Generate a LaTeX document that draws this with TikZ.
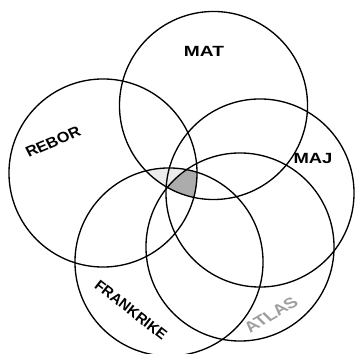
\documentclass[tikz,border=0pt]{standalone}
\usepackage{fontspec}
\setsansfont{Liberation Sans}
\usetikzlibrary{positioning}

\tikzset{
  venn/.style={draw, circle, line width=0.95pt, minimum size=4.7cm, inner sep=0pt},
  setlabel/.style={font=\sffamily\bfseries\fontsize{10.5}{12}\selectfont, inner sep=1pt}
}

\begin{document}
\begin{tikzpicture}[x=0.025cm,y=-0.025cm]
    \useasboundingbox (0,0) rectangle (356,354);

    % Centres of the five sets
    \coordinate (c-mat) at (213.5,105.5);
    \coordinate (c-rebor) at (103,173);
    \coordinate (c-maj) at (260,193);
    \coordinate (c-frank) at (169,262);
    \coordinate (c-atlas) at (240,247);

    % Light patch
    \begin{scope}
        \clip (c-rebor) circle (2.35cm);
        \clip (c-mat) circle (2.35cm);
        \fill[gray!15] (c-frank) circle (2.35cm);
    \end{scope}

    % Common part of all five
    \begin{scope}
        \clip (c-mat) circle (2.35cm);
        \clip (c-rebor) circle (2.35cm);
        \clip (c-maj) circle (2.35cm);
        \clip (c-frank) circle (2.35cm);
        \fill[gray!65] (c-atlas) circle (2.35cm);
    \end{scope}

    % Circles
    \node[venn] (mat) at (c-mat) {};
    \node[venn] (rebor) at (c-rebor) {};
    \node[venn] (maj) at (c-maj) {};
    \node[venn] (frank) at (c-frank) {};
    \node[venn] (atlas) at (c-atlas) {};

    % Labels
    \node[setlabel,xscale=1.3] (mat-l) at (204,51) {MAT};
    \node[setlabel,xscale=1.1,rotate=25] (rebor-l) at (53,142) {REBOR};
    \node[setlabel,xscale=1.25] (maj-l) at (313,158) {MAJ};
    \node[setlabel,rotate=-38] (frank-l) at (131,310) {FRANKRIKE};
    \node[setlabel,xscale=1.3,rotate=38,gray!75] (atlas-l) at (271,315) {ATLAS};
\end{tikzpicture}
\end{document}
